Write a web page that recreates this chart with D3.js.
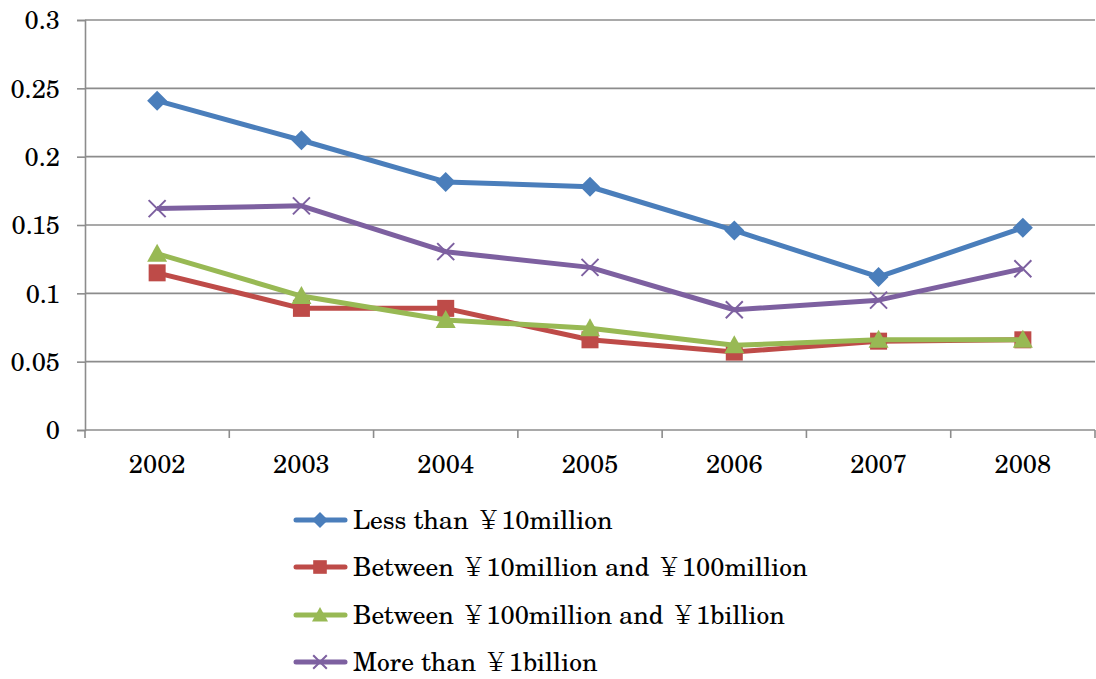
<!DOCTYPE html>
<html>
<head>
<meta charset="utf-8">
<script src="https://cdn.jsdelivr.net/npm/d3@7"></script>
<style>
  html, body { margin: 0; padding: 0; background: #fff; }
  svg { display: block; }
</style>
</head>
<body>
<svg id="chart" width="1096" height="679"></svg>
<script>
// Years on the category axis
const years = ["2002", "2003", "2004", "2005", "2006", "2007", "2008"];

// Ratio per year for each size class
const lessThan10m   = [0.241, 0.212, 0.1815, 0.178, 0.146, 0.112, 0.148];
const from10mTo100m = [0.115, 0.089, 0.089, 0.066, 0.057, 0.065, 0.066];
const from100mTo1b  = [0.129, 0.098, 0.0805, 0.0745, 0.062, 0.066, 0.066];
const moreThan1b    = [0.162, 0.164, 0.1305, 0.119, 0.088, 0.095, 0.118];

const seriesNames = [
  "Less than ￥10million",
  "Between ￥10million and ￥100million",
  "Between ￥100million and ￥1billion",
  "More than ￥1billion"
];
const seriesColors = ["#4a7ebb", "#be4b48", "#98b954", "#7d60a0"];
const seriesMarkers = ["diamond", "square", "triangle", "cross"];
const seriesValues = [lessThan10m, from10mTo100m, from100mTo1b, moreThan1b];

// Y axis tick labels
const yTicks = [0, 0.05, 0.1, 0.15, 0.2, 0.25, 0.3];
const yTickLabels = ["0", "0.05", "0.1", "0.15", "0.2", "0.25", "0.3"];

const svg = d3.select("#chart");
const plot = { left: 85, right: 1095, top: 20, bottom: 430 };
const fontFamily = "'TeX Gyre Schola', 'Noto Serif CJK JP', 'Liberation Serif', serif";
const fontSize = "25.5px";

const x = d3.scaleBand().domain(years).range([plot.left, plot.right]);
const y = d3.scaleLinear().domain([0, 0.3]).range([plot.bottom, plot.top]);

const gridColor = "#8c8c8c";

// Horizontal gridlines
svg.append("g")
  .selectAll("line")
  .data(yTicks.filter(d => d > 0))
  .join("line")
  .attr("x1", plot.left).attr("x2", plot.right)
  .attr("y1", d => y(d)).attr("y2", d => y(d))
  .attr("stroke", gridColor).attr("stroke-width", 1.6);

// Y axis
const yAxis = svg.append("g")
  .attr("transform", `translate(${plot.left},0)`)
  .call(d3.axisLeft(y).tickValues(yTicks)
    .tickFormat((d, i) => yTickLabels[i]).tickSizeOuter(0).tickSize(8).tickPadding(17));
yAxis.select(".domain").attr("stroke", gridColor).attr("stroke-width", 1.6);
yAxis.selectAll(".tick line").attr("stroke", gridColor).attr("stroke-width", 1.6);
yAxis.selectAll(".tick text")
  .style("font-family", fontFamily).style("font-size", fontSize).attr("fill", "#000")
  .attr("dy", "0.34em");

// X axis with boundary ticks between categories
const xAxisG = svg.append("g").attr("transform", `translate(0,${plot.bottom})`);
xAxisG.append("line")
  .attr("x1", plot.left).attr("x2", plot.right)
  .attr("y1", 0).attr("y2", 0)
  .attr("stroke", gridColor).attr("stroke-width", 1.6);
const boundaries = years.map(d => x(d)).concat([x(years[years.length - 1]) + x.bandwidth()]);
xAxisG.selectAll("line.bt")
  .data(boundaries)
  .join("line").attr("class", "bt")
  .attr("x1", d => d).attr("x2", d => d)
  .attr("y1", 0).attr("y2", 8)
  .attr("stroke", gridColor).attr("stroke-width", 1.6);
xAxisG.selectAll("text")
  .data(years)
  .join("text")
  .attr("x", d => x(d) + x.bandwidth() / 2)
  .attr("y", 43)
  .attr("text-anchor", "middle")
  .style("font-family", fontFamily)
  .style("font-size", fontSize)
  .attr("fill", "#000")
  .text(d => d);

// Marker drawing
function drawMarker(g, type, color, s) {
  if (type === "diamond") {
    g.append("path").attr("d", `M0,${-s}L${s},0L0,${s}L${-s},0Z`).attr("fill", color);
  } else if (type === "square") {
    g.append("rect").attr("x", -s * 0.85).attr("y", -s * 0.85)
      .attr("width", s * 1.7).attr("height", s * 1.7).attr("fill", color);
  } else if (type === "triangle") {
    g.append("path").attr("d", `M0,${-s}L${s},${s * 0.8}L${-s},${s * 0.8}Z`).attr("fill", color);
  } else if (type === "cross") {
    const c = s * 0.85;
    g.append("path").attr("d", `M${-c},${-c}L${c},${c}M${-c},${c}L${c},${-c}`)
      .attr("stroke", color).attr("stroke-width", 2).attr("fill", "none");
  }
}

const line = d3.line()
  .x((d, i) => x(years[i]) + x.bandwidth() / 2)
  .y(d => y(d));

// Series lines, drawn in order so later series sit on top
seriesValues.forEach((vals, si) => {
  const g = svg.append("g");
  g.append("path")
    .datum(vals)
    .attr("d", line)
    .attr("fill", "none")
    .attr("stroke", seriesColors[si])
    .attr("stroke-width", 5)
    .attr("stroke-linejoin", "round");
  vals.forEach((v, i) => {
    const m = g.append("g")
      .attr("transform", `translate(${x(years[i]) + x.bandwidth() / 2},${y(v)})`);
    drawMarker(m, seriesMarkers[si], seriesColors[si], 10);
  });
});

// Legend
const legend = svg.append("g");
const legendYs = [520, 567, 615, 662];
seriesNames.forEach((name, si) => {
  const row = legend.append("g").attr("transform", `translate(0,${legendYs[si]})`);
  row.append("line")
    .attr("x1", 296).attr("x2", 345).attr("y1", 0).attr("y2", 0)
    .attr("stroke", seriesColors[si]).attr("stroke-width", 5).attr("stroke-linecap", "round");
  const m = row.append("g").attr("transform", "translate(320,0)");
  drawMarker(m, seriesMarkers[si], seriesColors[si], 8);
  row.append("text")
    .attr("x", 353).attr("y", 9)
    .style("font-family", fontFamily)
    .style("font-size", fontSize)
    .attr("fill", "#000")
    .text(name);
});
</script>
</body>
</html>
